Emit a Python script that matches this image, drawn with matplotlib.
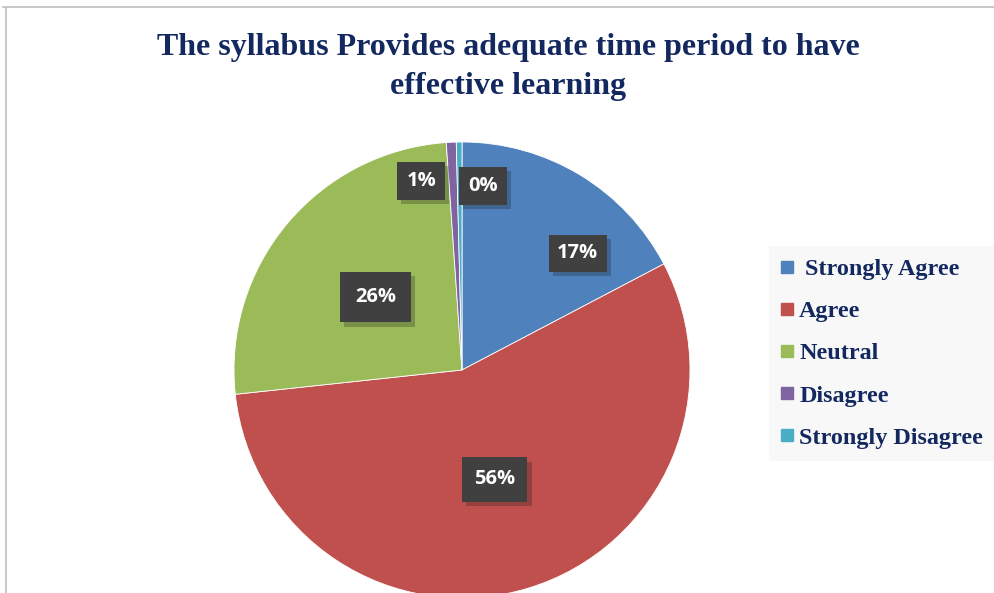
import matplotlib
matplotlib.use('Agg')
import matplotlib.pyplot as plt
from matplotlib.lines import Line2D
import matplotlib.patheffects as pe

# survey answers (percent of respondents)
categories = ['Strongly Agree', 'Agree', 'Neutral', 'Disagree', 'Strongly Disagree']
shares = [17.3, 56.0, 25.6, 0.7, 0.4]
colors = ['#4F81BD', '#C0504D', '#9BBB59', '#8064A2', '#4BACC6']
title = 'The syllabus Provides adequate time period to have\neffective learning'

# where Excel put the data label boxes (pie radius units)
label_pos = [(0.507, 0.511), (0.144, -0.480), (-0.380, 0.319), (-0.179, 0.830), (0.092, 0.808)]
label_pad = [0.42, 0.6, 0.75, 0.45, 0.45]

navy = '#13285F'
W, H = 995, 593
fig = plt.figure(figsize=(W / 100, H / 100), dpi=100)
fig.patch.set_facecolor('white')

# pie axes: centre (462, 370) px, radius 228 px
cx, cy, r = 462, 370, 228
ax = fig.add_axes([(cx - r) / W, (H - cy - r) / H, 2 * r / W, 2 * r / H])
wedges, texts, autotexts = ax.pie(shares, colors=colors, startangle=90, counterclock=False,
                                  autopct='%.0f%%', radius=1,
                                  wedgeprops=dict(edgecolor='white', linewidth=0.6))
ax.set_xlim(-1, 1)
ax.set_ylim(-1, 1)
ax.set_aspect('equal')
ax.axis('off')
for w in wedges:
    w.set_clip_on(False)

for t, pos, pad in zip(autotexts, label_pos, label_pad):
    t.set_position(pos)
    t.set_color('white')
    t.set(fontsize=14.5, fontweight='bold', fontfamily='Open Sans')
    t.set_ha('center')
    t.set_va('center')
    t.set_zorder(6)
    t.set_bbox(dict(boxstyle=f'square,pad={pad}', facecolor='#404040', linewidth=0))
    # soft shadow under the box
    t.get_bbox_patch().set_path_effects([pe.SimplePatchShadow(offset=(3, -3), alpha=0.25),
                                         pe.Normal()])

fig.text(508 / W, 1 - 67 / H, title, ha='center', va='center', fontsize=23,
         fontfamily='Liberation Serif', fontweight='bold', color=navy, linespacing=1.42)

handles = [Line2D([], [], marker='s', linestyle='none', markersize=8.6, color=c) for c in colors]
names = [' ' + categories[0]] + categories[1:]
leg = fig.legend(handles, names, loc='upper left', bbox_to_anchor=(769 / W, 1 - 246 / H),
                 frameon=True, fancybox=False, framealpha=1, facecolor='#F8F8F8', edgecolor='none',
                 prop=dict(family='Liberation Serif', weight='bold', size=17.4),
                 handlelength=0.5, handletextpad=0.25, labelspacing=0.84, borderpad=0.5,
                 borderaxespad=0)
for txt in leg.get_texts():
    txt.set_color(navy)

# outer chart border (top and left visible)
fig.add_artist(Line2D([3 / W, 1], [1 - 7 / H, 1 - 7 / H], color='#BFBFBF', linewidth=1.2))
fig.add_artist(Line2D([6 / W, 6 / W], [0, 1 - 7 / H], color='#BFBFBF', linewidth=1.2))

fig.savefig('out.png', dpi=100)
